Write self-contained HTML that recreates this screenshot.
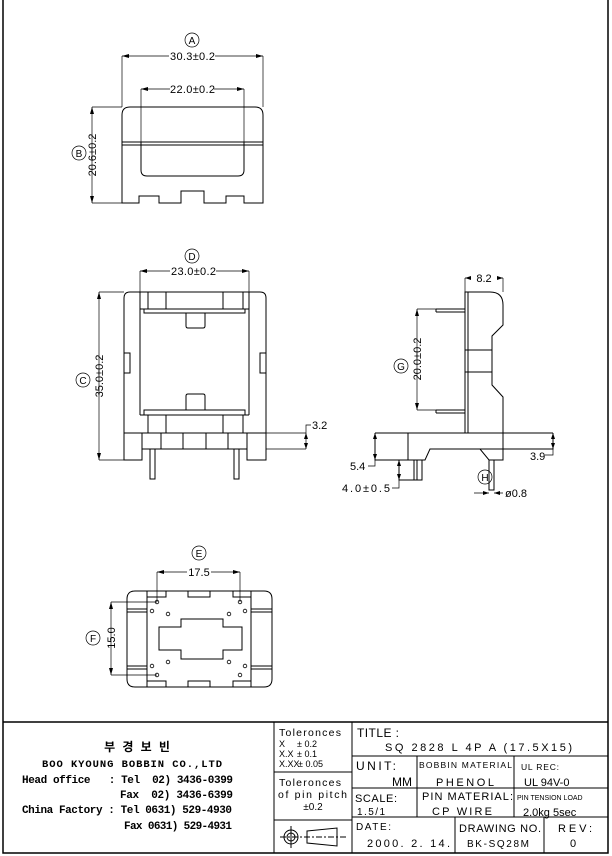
<!DOCTYPE html>
<html><head><meta charset="utf-8"><style>
html,body{margin:0;padding:0;background:#fff}
svg{display:block}
text{font-family:"Liberation Sans",sans-serif;fill:#000}
.m{font-family:"Liberation Mono","Noto Sans CJK KR",monospace;font-weight:bold}
</style></head><body>
<svg width="612" height="856" viewBox="0 0 612 856" xmlns="http://www.w3.org/2000/svg" stroke="#000" fill="none" stroke-width="1">
<!-- frame -->
<path d="M3 0V853H608V0" stroke-width="1.5"/>
<line x1="3" y1="722" x2="608" y2="722" stroke-width="1.5"/>
<line x1="274" y1="722" x2="274" y2="853"/>
<line x1="352" y1="722" x2="352" y2="853"/>
<line x1="274" y1="772" x2="352" y2="772"/>
<line x1="274" y1="820" x2="352" y2="820"/>
<line x1="352" y1="756" x2="608" y2="756"/>
<line x1="352" y1="788" x2="608" y2="788"/>
<line x1="352" y1="817" x2="608" y2="817"/>
<line x1="417" y1="756" x2="417" y2="817"/>
<line x1="514" y1="756" x2="514" y2="817"/>
<line x1="455" y1="817" x2="455" y2="853"/>
<line x1="544" y1="817" x2="544" y2="853"/>
<!-- tolerance symbol -->
<circle cx="291" cy="837" r="7"/><circle cx="291" cy="837" r="4"/>
<line x1="280" y1="837" x2="347" y2="837" stroke-dasharray="6,2,2,2"/>
<line x1="291" y1="826" x2="291" y2="848"/>
<path d="M307 831L337 828V846L307 843Z"/>
<g stroke="none">
<text x="279" y="736" font-size="10.5" textLength="62">Toleronces</text>
<text x="279" y="747" font-size="9">X</text><text x="297" y="747" font-size="9">± 0.2</text>
<text x="279" y="757" font-size="9">X.X</text><text x="297" y="757" font-size="9">± 0.1</text>
<text x="279" y="767" font-size="9">X.XX</text><text x="298" y="767" font-size="9">± 0.05</text>
<text x="279" y="786" font-size="10.5" textLength="62">Toleronces</text>
<text x="278" y="798" font-size="10.5" textLength="69">of pin pitch</text>
<text x="313" y="810" font-size="10" text-anchor="middle">±0.2</text>
<text x="357" y="737" font-size="12" textLength="42">TITLE :</text>
<text x="385" y="751" font-size="11" textLength="187">SQ 2828 L 4P A (17.5X15)</text>
<text x="356" y="770" font-size="12" textLength="40">UNIT:</text>
<text x="412" y="786" font-size="12" text-anchor="end">MM</text>
<text x="419" y="768" font-size="8.5" textLength="93">BOBBIN MATERIAL</text>
<text x="436" y="786" font-size="11" textLength="58">PHENOL</text>
<text x="521" y="770" font-size="8.5" textLength="38">UL REC:</text>
<text x="524" y="786" font-size="11">UL 94V-0</text>
<text x="517" y="800" font-size="7">PIN TENSION LOAD</text>
<text x="355" y="802" font-size="11" textLength="42">SCALE:</text>
<text x="357" y="815" font-size="10" textLength="28">1.5/1</text>
<text x="422" y="800" font-size="11" textLength="91">PIN MATERIAL:</text>
<text x="432" y="815" font-size="11" textLength="60">CP WIRE</text>
<text x="523" y="816" font-size="11">2.0kg 5sec</text>
<text x="356" y="830" font-size="10" textLength="35">DATE:</text>
<text x="367" y="847" font-size="11" textLength="83">2000. 2. 14.</text>
<text x="459" y="832" font-size="11" textLength="82">DRAWING NO.</text>
<text x="467" y="847" font-size="10" textLength="62">BK-SQ28M</text>
<text x="558" y="832" font-size="11" textLength="34">REV:</text>
<text x="570" y="847" font-size="11">0</text>
<text class="m" x="137" y="751" font-size="12" text-anchor="middle">부 경 보 빈</text>
<text class="m" x="42" y="767" font-size="10.5" textLength="180">BOO KYOUNG BOBBIN CO.,LTD</text>
<text class="m" x="22" y="783" font-size="11" textLength="211" xml:space="preserve">Head office   : Tel  02) 3436-0399</text>
<text class="m" x="120" y="798" font-size="11" textLength="113" xml:space="preserve">Fax  02) 3436-6399</text>
<text class="m" x="22" y="813" font-size="11" textLength="210" xml:space="preserve">China Factory : Tel 0631) 529-4930</text>
<text class="m" x="124" y="829" font-size="11" textLength="108" xml:space="preserve">Fax 0631) 529-4931</text>
</g>

<!-- TOP VIEW -->
<path d="M122 115Q122 107 130 107H255Q263 107 263 115V203H244V196H226V203H204V191H181V203H159V196H139V203H122Z"/>
<line x1="122" y1="142" x2="263" y2="142"/><line x1="122" y1="145" x2="263" y2="145"/>
<path d="M141 142V170Q141 176 147 176H238Q244 176 244 170V142"/>
<line x1="165" y1="145" x2="221" y2="145"/>
<g stroke-width="0.7">
<line x1="122" y1="56" x2="122" y2="107"/><line x1="263" y1="56" x2="263" y2="107"/>
<line x1="122" y1="56" x2="263" y2="56"/>
<line x1="141" y1="89" x2="141" y2="142"/><line x1="244" y1="89" x2="244" y2="142"/>
<line x1="141" y1="89" x2="244" y2="89"/>
<line x1="92" y1="107" x2="122" y2="107"/><line x1="92" y1="203" x2="122" y2="203"/>
<line x1="92" y1="107" x2="92" y2="203"/>
<circle cx="192" cy="40" r="7"/><circle cx="79" cy="153" r="7"/>
</g>
<g fill="#000" stroke="none">
<path d="M122 56l7-2v4z"/><path d="M263 56l-7-2v4z"/>
<path d="M141 89l7-2v4z"/><path d="M244 89l-7-2v4z"/>
<path d="M92 107l-2 7h4z"/><path d="M92 203l-2-7h4z"/>
</g>
<g stroke="none">
<rect x="169" y="50" width="46" height="12" fill="#fff"/>
<text x="170" y="60" font-size="11" textLength="45">30.3±0.2</text>
<rect x="170" y="83" width="44" height="12" fill="#fff"/>
<text x="170" y="93" font-size="11" textLength="45">22.0±0.2</text>
<text x="96" y="155" font-size="11" text-anchor="middle" transform="rotate(-90 96 155)">20.6±0.2</text>
<text x="192" y="44" font-size="10" text-anchor="middle">A</text>
<text x="79" y="157" font-size="10" text-anchor="middle">B</text>
</g>

<!-- FRONT VIEW -->
<path d="M124 460V298Q124 292 130 292H260Q266 292 266 298V460H247V449H142V460Z"/>
<path d="M124 353H130V373H124M266 353H260V373H266"/>
<line x1="124" y1="433" x2="266" y2="433"/><line x1="142" y1="449" x2="247" y2="449"/>
<line x1="142" y1="433" x2="142" y2="449"/><line x1="161" y1="433" x2="161" y2="449"/>
<line x1="183" y1="433" x2="183" y2="449"/><line x1="206" y1="433" x2="206" y2="449"/>
<line x1="228" y1="433" x2="228" y2="449"/><line x1="247" y1="433" x2="247" y2="449"/>
<line x1="140" y1="292" x2="140" y2="415"/><line x1="249" y1="292" x2="249" y2="415"/>
<line x1="148" y1="292" x2="148" y2="309"/><line x1="166" y1="292" x2="166" y2="309"/>
<line x1="223" y1="292" x2="223" y2="309"/><line x1="243" y1="292" x2="243" y2="309"/>
<path d="M140 309H249M144 309V313H245V309"/>
<path d="M186 313V326Q186 328 188 328H203Q205 328 205 326V313"/>
<path d="M186 410V396Q186 394 188 394H203Q205 394 205 396V410"/>
<path d="M144 415V410H245V415M140 415H249"/>
<line x1="148" y1="415" x2="148" y2="433"/><line x1="166" y1="415" x2="166" y2="433"/>
<line x1="223" y1="415" x2="223" y2="433"/><line x1="243" y1="415" x2="243" y2="433"/>
<rect x="150" y="449" width="5" height="30"/><rect x="234" y="449" width="5" height="30"/>
<g stroke-width="0.7">
<line x1="140" y1="271" x2="140" y2="292"/><line x1="249" y1="271" x2="249" y2="292"/>
<line x1="140" y1="271" x2="249" y2="271"/>
<line x1="99" y1="292" x2="124" y2="292"/><line x1="99" y1="460" x2="124" y2="460"/>
<line x1="99" y1="292" x2="99" y2="460"/>
<line x1="266" y1="433" x2="306" y2="433"/><line x1="266" y1="449" x2="306" y2="449"/>
<path d="M306 449V425H311"/>
<circle cx="192" cy="256" r="7"/><circle cx="83" cy="380" r="7"/>
</g>
<g fill="#000" stroke="none">
<path d="M140 271l7-2v4z"/><path d="M249 271l-7-2v4z"/>
<path d="M99 292l-2 7h4z"/><path d="M99 460l-2-7h4z"/>
<path d="M306 433l-2 6h4z"/><path d="M306 449l-2-6h4z"/>
</g>
<g stroke="none">
<rect x="170" y="265" width="46" height="12" fill="#fff"/>
<text x="171" y="275" font-size="11" textLength="45">23.0±0.2</text>
<text x="103" y="376" font-size="11" text-anchor="middle" transform="rotate(-90 103 376)">35.0±0.2</text>
<text x="192" y="260" font-size="10" text-anchor="middle">D</text>
<text x="83" y="384" font-size="10" text-anchor="middle">C</text>
<text x="312" y="429" font-size="11">3.2</text>
</g>

<!-- SIDE VIEW -->
<rect x="465" y="292" width="3" height="141"/>
<path d="M468 292H490Q503 292 503 305V325L492 336V385L503 397V433"/>
<path d="M465 350H492M465 372H492"/>
<path d="M436 309H465M436 312H465M436 309V312"/>
<path d="M436 410H465M436 413H465M436 410V413"/>
<path d="M375 433H553M375 433V460H425L430 449H480L489 460H503V433M408 433V460M430 449H553V433"/>
<path d="M399 460V480H422V460M414 460V480M417 460V480"/>
<rect x="489" y="460" width="5" height="30"/>
<g stroke-width="0.7">
<line x1="465" y1="278" x2="465" y2="292"/><line x1="503" y1="278" x2="503" y2="292"/>
<line x1="465" y1="278" x2="503" y2="278"/>
<line x1="417" y1="309" x2="436" y2="309"/><line x1="417" y1="410" x2="436" y2="410"/>
<line x1="417" y1="309" x2="417" y2="410"/>
<path d="M375 433V466H368"/>
<path d="M399 466V488H392"/>
<path d="M553 433V455H545"/>
<path d="M474 493H489M494 493H503"/>
<circle cx="485" cy="477" r="7"/><circle cx="401" cy="366" r="7"/>
</g>
<g fill="#000" stroke="none">
<path d="M465 278l6-2v4z"/><path d="M503 278l-6-2v4z"/>
<path d="M417 309l-2 7h4z"/><path d="M417 410l-2-7h4z"/>
<path d="M375 433l-2 6h4z"/><path d="M375 460l-2-6h4z"/>
<path d="M399 460l-2 6h4z"/><path d="M399 480l-2-6h4z"/>
<path d="M553 433l-2 6h4z"/><path d="M553 449l-2-6h4z"/>
<path d="M489 493l-6-2v4z"/><path d="M494 493l6-2v4z"/>
</g>
<g stroke="none">
<rect x="471" y="272" width="26" height="12" fill="#fff"/>
<text x="484" y="282" font-size="11" text-anchor="middle">8.2</text>
<text x="421" y="359" font-size="11" text-anchor="middle" transform="rotate(-90 421 359)">20.0±0.2</text>
<text x="401" y="370" font-size="10" text-anchor="middle">G</text>
<text x="485" y="481" font-size="10" text-anchor="middle">H</text>
<text x="350" y="470" font-size="11">5.4</text>
<text x="342" y="492" font-size="11" textLength="48">4.0±0.5</text>
<text x="530" y="460" font-size="11">3.9</text>
<text x="505" y="497" font-size="11">ø0.8</text>
</g>

<!-- BOTTOM VIEW -->
<path d="M135 591H264Q272 591 272 599V679Q272 687 264 687H135Q127 687 127 679V599Q127 591 135 591Z"/>
<line x1="147" y1="591" x2="147" y2="687"/><line x1="251" y1="591" x2="251" y2="687"/>
<path d="M147 597H166V591H188V597H210V591H233V597H251"/>
<path d="M147 681H166V687H188V681H210V687H233V681H251"/>
<path d="M127 609H147M127 612H147M251 609H272M251 612H272"/>
<path d="M127 666H147M127 669H147M251 666H272M251 669H272"/>
<path d="M181 619H223V627H242V650H223V659H181V650H159V627H181Z"/>
<g stroke-width="0.8">
<circle cx="157" cy="602" r="1.8"/><circle cx="240" cy="602" r="1.8"/>
<circle cx="157" cy="675" r="1.8"/><circle cx="240" cy="675" r="1.8"/>
<circle cx="152" cy="611" r="1.8"/><circle cx="168" cy="614" r="1.8"/>
<circle cx="229" cy="614" r="1.8"/><circle cx="245" cy="611" r="1.8"/>
<circle cx="152" cy="666" r="1.8"/><circle cx="168" cy="662" r="1.8"/>
<circle cx="229" cy="662" r="1.8"/><circle cx="245" cy="666" r="1.8"/>
</g>
<g stroke-width="0.7">
<line x1="157" y1="572" x2="157" y2="602"/><line x1="240" y1="572" x2="240" y2="602"/>
<line x1="157" y1="572" x2="240" y2="572"/>
<line x1="111" y1="602" x2="157" y2="602"/><line x1="111" y1="675" x2="157" y2="675"/>
<line x1="111" y1="602" x2="111" y2="675"/>
<circle cx="199" cy="553" r="7"/><circle cx="93" cy="638" r="7"/>
</g>
<g fill="#000" stroke="none">
<path d="M157 572l7-2v4z"/><path d="M240 572l-7-2v4z"/>
<path d="M111 602l-2 7h4z"/><path d="M111 675l-2-7h4z"/>
</g>
<g stroke="none">
<rect x="187" y="566" width="24" height="12" fill="#fff"/>
<text x="199" y="576" font-size="11" text-anchor="middle">17.5</text>
<text x="115" y="638" font-size="11" text-anchor="middle" transform="rotate(-90 115 638)">15.0</text>
<text x="199" y="557" font-size="10" text-anchor="middle">E</text>
<text x="93" y="642" font-size="10" text-anchor="middle">F</text>
</g>
</svg>
</body></html>
